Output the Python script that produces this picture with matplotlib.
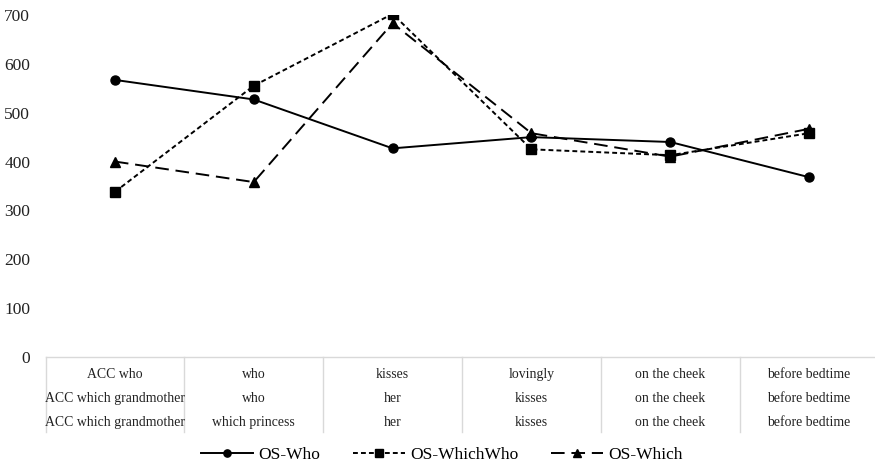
import matplotlib.pyplot as plt
from matplotlib.transforms import blended_transform_factory

# 데이터
row1 = ["ACC who", "who", "kisses", "lovingly", "on the cheek", "before bedtime"]
row2 = ["ACC which grandmother", "who", "her", "kisses", "on the cheek", "before bedtime"]
row3 = ["ACC which grandmother", "which princess", "her", "kisses", "on the cheek", "before bedtime"]

os_who = [567, 527, 427, 450, 440, 368]
os_which_who = [338, 555, 702, 425, 413, 458]
os_which = [400, 358, 683, 458, 410, 467]

plt.rcParams['font.family'] = ['Liberation Serif', 'DejaVu Serif']

fig = plt.figure(figsize=(8.75, 4.65), dpi=100)
ax = fig.add_axes([0.052, 0.232, 0.952, 0.736])

x = list(range(len(row1)))
ax.plot(x, os_who, color='black', lw=1.4, marker='o', ms=6.5, label='OS-Who')
ax.plot(x, os_which_who, color='black', lw=1.4, marker='s', ms=6.5,
        dashes=(2.5, 1.6), label='OS-WhichWho')
ax.plot(x, os_which, color='black', lw=1.4, marker='^', ms=7.5,
        dashes=(7, 3.5), label='OS-Which')

ax.set_xlim(-0.5, len(row1) - 0.5)
ax.set_ylim(0, 700)
ax.set_yticks(range(0, 701, 100))
ax.tick_params(axis='y', length=0, pad=11, labelsize=12.5, colors='#222222')
ax.set_xticks([])
for s in ['top', 'right', 'left']:
    ax.spines[s].set_visible(False)
ax.spines['bottom'].set_color('#d9d9d9')
ax.spines['bottom'].set_linewidth(1.0)

# 아래 표 (카테고리 라벨)
tr = blended_transform_factory(ax.transData, ax.transAxes)
row_y = [-0.050, -0.120, -0.190]
for ry, labels in zip(row_y, [row1, row2, row3]):
    for i, lab in enumerate(labels):
        ax.text(i, ry, lab, transform=tr, ha='center', va='center',
                fontsize=9.9, color='#222222')
for i in range(len(row1)):
    ax.plot([i - 0.5, i - 0.5], [0, -0.219], transform=tr, color='#d9d9d9',
            lw=1.0, clip_on=False)

leg = fig.legend(loc='center', bbox_to_anchor=(0.505, 0.022), ncol=3, frameon=False,
                 fontsize=12.5, handlelength=3.0, columnspacing=1.9, handletextpad=0.3,
                 markerscale=0.8)

fig.savefig('out.png', dpi=100)
